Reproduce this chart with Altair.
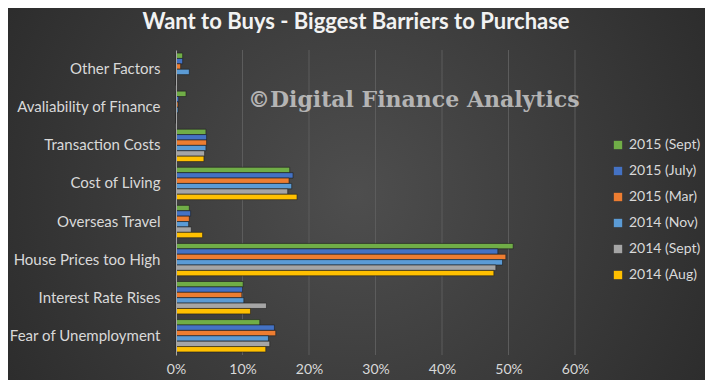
import altair as alt
import pandas as pd

categories = ["Other Factors", "Avaliability of Finance", "Transaction Costs", "Cost of Living",
              "Overseas Travel", "House Prices too High", "Interest Rate Rises", "Fear of Unemployment"]
series = ["2015 (Sept)", "2015 (July)", "2015 (Mar)", "2014 (Nov)", "2014 (Sept)", "2014 (Aug)"]
colors = ["#70ad47", "#4472c4", "#ed7d31", "#5b9bd5", "#a5a5a5", "#ffc000"]

# values in percent, per series, in category order
s_2015_sept = [1.0, 1.5, 4.5, 17.1, 2.0, 50.7, 10.1, 12.6]
s_2015_july = [1.0, 0.4, 4.6, 17.6, 2.2, 48.4, 10.0, 14.8]
s_2015_mar = [0.7, 0.3, 4.6, 17.0, 2.0, 49.6, 9.9, 15.0]
s_2014_nov = [2.0, 0.3, 4.5, 17.4, 1.9, 49.1, 10.2, 13.9]
s_2014_sept = [0.0, 0.0, 4.3, 16.8, 2.3, 48.1, 13.6, 14.1]
s_2014_aug = [0.0, 0.0, 4.2, 18.2, 4.0, 47.8, 11.2, 13.5]

x_ticks = [0, 0.1, 0.2, 0.3, 0.4, 0.5, 0.6]
grid_ticks = [0.1, 0.2, 0.3, 0.4, 0.5, 0.6]

title_text = "Want to Buys - Biggest Barriers to Purchase"
watermark = "©Digital Finance Analytics"

rows = []
for s, vals in zip(series, [s_2015_sept, s_2015_july, s_2015_mar, s_2014_nov, s_2014_sept, s_2014_aug]):
    for c, v in zip(categories, vals):
        rows.append({"category": c, "series": s, "value": v / 100.0})
df = pd.DataFrame(rows)

W, H = 399, 305
PL, PT = 168, 42
TW, TH = 697, 372
FONT = "Lato"

xscale = alt.Scale(domain=[0, 0.6], nice=False)
xaxis = alt.Axis(values=x_ticks, format=".0%", grid=False, domain=False, ticks=False,
                 labelColor="#d9d9d9", labelFontSize=14, labelFont=FONT, labelFlush=False,
                 labelPadding=7, title=None, zindex=1)

bg = alt.Chart(alt.Data(values=[{"a": 1}])).mark_rect(
    color=alt.Gradient(
        gradient="radial",
        x1=0.5, y1=0.5, r1=0, x2=0.5, y2=0.5, r2=0.75,
        stops=[alt.GradientStop(offset=0, color="#4e4e4e"),
               alt.GradientStop(offset=1, color="#222222")],
    )
).encode(
    x=alt.value(-PL), x2=alt.value(TW - PL), y=alt.value(-PT), y2=alt.value(TH - PT)
)

grid = alt.Chart(pd.DataFrame({"value": grid_ticks})).mark_rule(
    color="#5c5c5c", strokeWidth=1
).encode(x=alt.X("value:Q", scale=xscale, axis=xaxis))

bars = alt.Chart(df).mark_bar(stroke="#1c1c1c", strokeWidth=0.6).encode(
    x=alt.X("value:Q", scale=xscale, axis=xaxis),
    y=alt.Y("category:N", sort=categories,
            scale=alt.Scale(paddingInner=0.15, paddingOuter=0.08),
            axis=alt.Axis(title=None, ticks=False, domain=True, domainColor="#a6a6a6",
                          domainWidth=1, labelColor="#d9d9d9", labelFontSize=15,
                          labelFont=FONT, labelPadding=16, labelLimit=300, zindex=1)),
    yOffset=alt.YOffset("series:N", sort=series),
    color=alt.Color("series:N", sort=series, scale=alt.Scale(domain=series, range=colors),
                    legend=alt.Legend(title=None, orient="none", legendX=435, legendY=88,
                                      labelColor="#d9d9d9", labelFontSize=14, labelFont=FONT,
                                      symbolType="square", symbolSize=70, symbolStrokeWidth=0,
                                      rowPadding=12, labelOffset=4, zindex=1)),
)

wm = alt.Chart(alt.Data(values=[{"t": watermark}])).mark_text(
    align="left", baseline="middle", font="DejaVu Serif", fontWeight="bold",
    fontSize=22, color="#c8c8c8", opacity=0.85
).encode(text="t:N", x=alt.value(72), y=alt.value(50))

title = alt.Chart(alt.Data(values=[{"t": title_text}])).mark_text(
    align="center", baseline="middle", font=FONT, fontWeight="bold",
    fontSize=22, color="#f2f2f2"
).encode(text="t:N", x=alt.value(180), y=alt.value(-28))

chart = alt.layer(bg, grid, bars, wm, title).properties(
    width=W, height=H,
    autosize="none",
    padding={"left": PL, "top": PT, "right": TW - PL - W, "bottom": TH - PT - H},
    background="#2a2a2a",
).configure_view(stroke=None)

chart.save("out.html", embed_options={"renderer": "svg", "actions": False})
